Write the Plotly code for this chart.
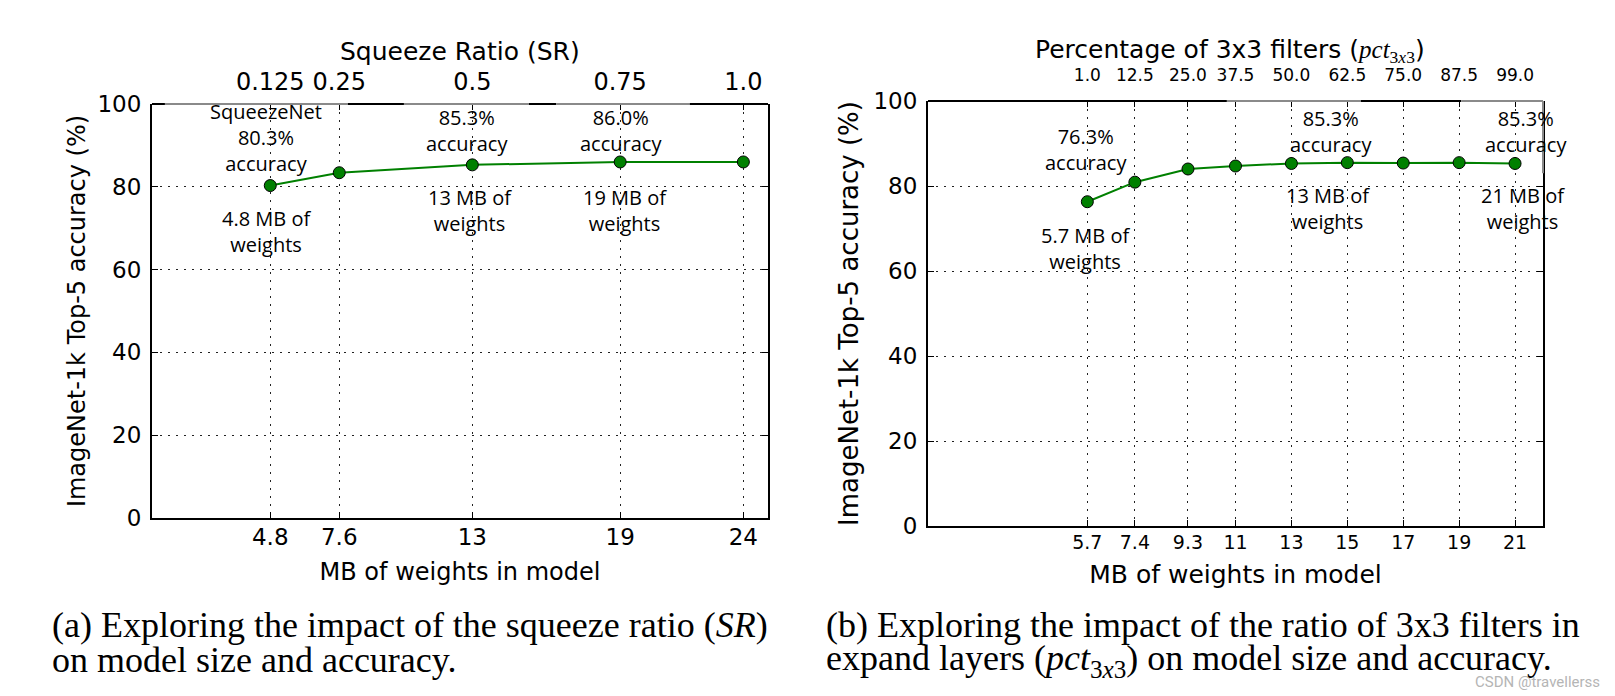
import plotly.graph_objects as go

# ---------------- data ----------------
mb_a = [4.8, 7.6, 13, 19, 24]
acc_a = [80.3, 83.4, 85.3, 86.0, 86.0]
mb_a_labels = ["4.8", "7.6", "13", "19", "24"]
sr_labels = ["0.125", "0.25", "0.5", "0.75", "1.0"]

mb_b = [5.7, 7.4, 9.3, 11, 13, 15, 17, 19, 21]
acc_b = [76.3, 80.9, 84.0, 84.7, 85.3, 85.5, 85.4, 85.5, 85.3]
mb_b_labels = ["5.7", "7.4", "9.3", "11", "13", "15", "17", "19", "21"]
pct_labels = ["1.0", "12.5", "25.0", "37.5", "50.0", "62.5", "75.0", "87.5", "99.0"]

y_ticks = [0, 20, 40, 60, 80, 100]

notes_a = ["SqueezeNet<br>80.3%<br>accuracy", "4.8 MB of<br>weights",
           "85.3%<br>accuracy", "13 MB of<br>weights",
           "86.0%<br>accuracy", "19 MB of<br>weights"]
notes_b = ["76.3%<br>accuracy", "5.7 MB of<br>weights",
           "85.3%<br>accuracy", "13 MB of<br>weights",
           "85.3%<br>accuracy", "21 MB of<br>weights"]

W, H = 1615, 696
GREEN = "#008000"
SANS = "DejaVu Sans"
NOTE = "Open Sans"
SERIF = "Liberation Serif"

# panel pixel boxes
A = dict(l=152, r=768, t=104, b=518)
B = dict(l=928, r=1543, t=101, b=526)


def xdom(p):
    return [p["l"] / W, p["r"] / W]


def ydom(p):
    return [1 - p["b"] / H, 1 - p["t"] / H]


fig = go.Figure()
fig.add_trace(go.Scatter(x=mb_a, y=acc_a, mode="lines+markers", xaxis="x", yaxis="y",
                         line=dict(color=GREEN, width=2),
                         marker=dict(size=12, color=GREEN, line=dict(color="black", width=1)),
                         cliponaxis=False, showlegend=False))
fig.add_trace(go.Scatter(x=mb_a, y=acc_a, mode="markers", xaxis="x3", yaxis="y",
                         marker=dict(opacity=0), hoverinfo="skip", showlegend=False))
fig.add_trace(go.Scatter(x=mb_b, y=acc_b, mode="lines+markers", xaxis="x2", yaxis="y2",
                         line=dict(color=GREEN, width=2),
                         marker=dict(size=12, color=GREEN, line=dict(color="black", width=1)),
                         cliponaxis=False, showlegend=False))
fig.add_trace(go.Scatter(x=mb_b, y=acc_b, mode="markers", xaxis="x4", yaxis="y2",
                         marker=dict(opacity=0), hoverinfo="skip", showlegend=False))

grid = dict(showgrid=True, gridcolor="#222", griddash="2px,6px", gridwidth=1, zeroline=False)
common_line = dict(showline=True, linecolor="black", linewidth=2, automargin=False)

fig.update_layout(
    template="none", width=W, height=H,
    margin=dict(l=0, r=0, t=0, b=0),
    paper_bgcolor="white", plot_bgcolor="white",
    xaxis=dict(domain=xdom(A), range=[0, 25], anchor="y",
               tickmode="array", tickvals=mb_a, ticktext=mb_a_labels,
               ticks="inside", ticklen=6, tickcolor="black", ticklabelstandoff=-3,
               tickfont=dict(family=SANS, size=23, color="black"),
               title=dict(text="MB of weights in model", standoff=15,
                          font=dict(family=SANS, size=24, color="black")),
               mirror=False, **grid, **common_line),
    yaxis=dict(domain=ydom(A), range=[0, 100], anchor="x",
               tickmode="array", tickvals=y_ticks,
               ticks="inside", ticklen=6, tickcolor="black", ticklabelstandoff=4,
               tickfont=dict(family=SANS, size=23, color="black"),
               title=dict(text="ImageNet-1k Top-5 accuracy (%)", standoff=5,
                          font=dict(family=SANS, size=24, color="black")),
               mirror="ticks", **grid, **common_line),
    xaxis3=dict(overlaying="x", side="top", anchor="y", range=[0, 25],
                tickmode="array", tickvals=mb_a, ticktext=sr_labels,
                ticks="inside", ticklen=6, tickcolor="black", ticklabelstandoff=8,
                tickfont=dict(family=SANS, size=24, color="black"),
                showgrid=False, zeroline=False, showline=False, automargin=False),
    xaxis2=dict(domain=xdom(B), range=[0, 22], anchor="y2",
                tickmode="array", tickvals=mb_b, ticktext=mb_b_labels,
                ticks="inside", ticklen=6, tickcolor="black", ticklabelstandoff=-2,
                tickfont=dict(family=SANS, size=19, color="black"),
                title=dict(text="MB of weights in model", standoff=14,
                           font=dict(family=SANS, size=25, color="black")),
                mirror=False, **grid, **common_line),
    yaxis2=dict(domain=ydom(B), range=[0, 100], anchor="x2",
                tickmode="array", tickvals=y_ticks,
                ticks="inside", ticklen=6, tickcolor="black", ticklabelstandoff=4,
                tickfont=dict(family=SANS, size=23, color="black"),
                title=dict(text="ImageNet-1k Top-5 accuracy (%)", standoff=7,
                           font=dict(family=SANS, size=26, color="black")),
                mirror="ticks", **grid, **common_line),
    xaxis4=dict(overlaying="x2", side="top", anchor="y2", range=[0, 22],
                tickmode="array", tickvals=mb_b, ticktext=pct_labels,
                ticks="inside", ticklen=6, tickcolor="black", ticklabelstandoff=16,
                tickfont=dict(family=SANS, size=17, color="black"),
                showgrid=False, zeroline=False, showline=False, automargin=False),
)

# top axis titles
fig.add_annotation(text="Squeeze Ratio (SR)", x=460 / W, y=1 - 51 / H,
                   xref="paper", yref="paper", xanchor="center", yanchor="middle",
                   showarrow=False, font=dict(family=SANS, size=25, color="black"))
fig.add_annotation(text="Percentage of 3x3 filters (<span style='font-family:Liberation Serif'><i>pct</i><sub>3<i>x</i>3</sub></span>)",
                   x=1230 / W, y=1 - 51 / H,
                   xref="paper", yref="paper", xanchor="center", yanchor="middle",
                   showarrow=False, font=dict(family=SANS, size=25, color="black"))

# top spines (with the light/dark banding of the original scan)
def top_spine(xref, yref, segs):
    for x0, x1, col in segs:
        fig.add_shape(type="line", xref=xref, yref=yref, x0=x0, x1=x1, y0=1, y1=1,
                      line=dict(color=col, width=2))

DK, LT = "black", "#8a8a8a"
top_spine("x domain", "y domain", [(0, 0.021, DK), (0.021, 0.318, LT), (0.318, 0.409, DK),
                                   (0.409, 0.612, LT), (0.612, 0.656, DK), (0.656, 0.873, LT),
                                   (0.873, 1, DK)])
top_spine("x2 domain", "y2 domain", [(0, 0.486, DK), (0.486, 0.704, LT), (0.704, 0.867, DK),
                                     (0.867, 1, LT)])
fig.add_shape(type="line", xref="x2 domain", yref="y2 domain", x0=1, x1=1, y0=0.83, y1=1,
              line=dict(color=LT, width=2))

# in-plot notes
pos_a = [(4.63, 91.8), (4.63, 69.3), (12.78, 93.5), (12.9, 74.2), (19.03, 93.5), (19.2, 74.2)]
for t, (x, y) in zip(notes_a, pos_a):
    fig.add_annotation(text=t, x=x, y=y, xref="x", yref="y", showarrow=False,
                       font=dict(family=NOTE, size=20, color="black"), align="center")
pos_b = [(5.65, 88.5), (5.65, 65.4), (14.4, 92.9), (14.3, 74.8), (21.4, 92.9), (21.3, 74.8)]
for t, (x, y) in zip(notes_b, pos_b):
    fig.add_annotation(text=t, x=x, y=y, xref="x2", yref="y2", showarrow=False,
                       font=dict(family=NOTE, size=20, color="black"), align="center")

# captions
captions = [
    (49.5, 625, "(a) Exploring the impact of the squeeze ratio (<i>SR</i>)"),
    (49.5, 660, "on model size and accuracy."),
    (824, 625, "(b) Exploring the impact of the ratio of 3x3 filters in"),
    (824, 660, "expand layers (<i>pct</i><sub>3<i>x</i>3</sub>) on model size and accuracy."),
]
for px, py, t in captions:
    fig.add_annotation(text=t, x=px / W, y=1 - py / H, xref="paper", yref="paper",
                       xanchor="left", yanchor="middle", showarrow=False,
                       font=dict(family=SERIF, size=36, color="black"))

fig.add_annotation(text="CSDN @travellerss", x=1602 / W, y=1 - 682 / H, xref="paper", yref="paper",
                   xanchor="right", yanchor="middle", showarrow=False,
                   font=dict(family="Liberation Sans Narrow, Roboto", size=15, color="#b5b5b5"))

fig.write_html("out.html")
